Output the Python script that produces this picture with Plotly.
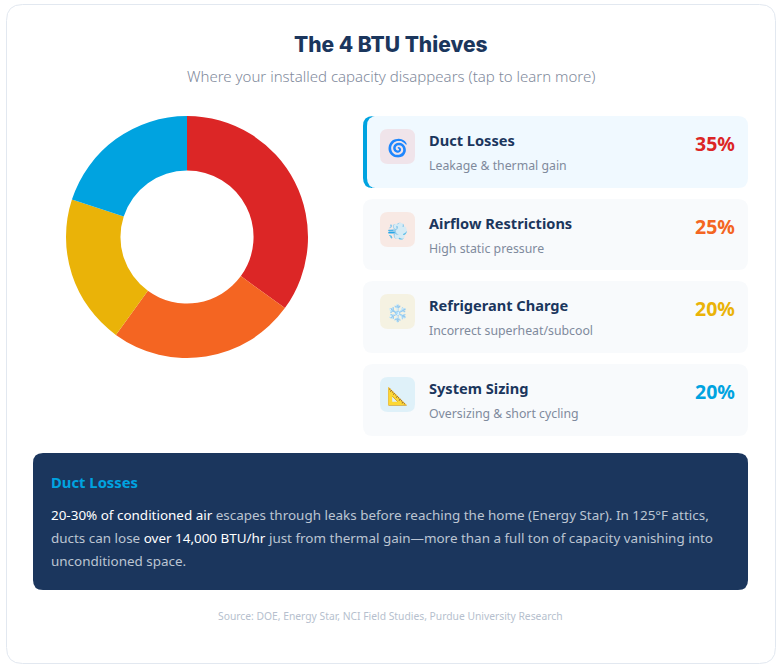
import plotly.graph_objects as go

categories = ["Duct Losses", "Airflow Restrictions", "Refrigerant Charge", "System Sizing"]
values = [35, 25, 20, 20]
colors = ["#DC2626", "#F46522", "#EAB308", "#00A3E0"]
subtitles = ["Leakage &amp; thermal gain", "High static pressure", "Incorrect superheat/subcool", "Oversizing &amp; short cycling"]
icons = ["🌀", "💨", "❄️", "📐"]
icon_bg = ["#F0E4EA", "#F8E9E4", "#F5F2E2", "#DFF1F9"]
card_tops = [116, 199, 281, 364]
card_bottoms = [188, 270, 353, 436]
detail_lines = [
    '<span style="color:#FFFFFF">20-30% of conditioned air</span> escapes through leaks before reaching the home (Energy Star). In 125°F attics,',
    'ducts can lose <span style="color:#FFFFFF">over 14,000 BTU/hr</span> just from thermal gain—more than a full ton of capacity vanishing into',
    'unconditioned space.',
]
detail_y = [514.5, 537.5, 561]

W, H = 783, 671
FONT = "Noto Sans"
NAVY = "#1B365D"


def rrect(x0, y0, x1, y1, r):
    return (f"M{x0+r},{y0} L{x1-r},{y0} Q{x1},{y0} {x1},{y0+r} L{x1},{y1-r} Q{x1},{y1} {x1-r},{y1} "
            f"L{x0+r},{y1} Q{x0},{y1} {x0},{y1-r} L{x0},{y0+r} Q{x0},{y0} {x0+r},{y0} Z")


def box(x0, y0, x1, y1, r, fill, line=None, layer="below"):
    return dict(type="path", path=rrect(x0, y0, x1, y1, r), xref="x", yref="y", fillcolor=fill,
                line=dict(color=line or "rgba(0,0,0,0)", width=1 if line else 0), layer=layer)


def label(x, y, text, size, color, anchor="left", weight=400, family=FONT):
    return dict(x=x, y=y, xref="x", yref="y", text=text, showarrow=False, xanchor=anchor, yanchor="middle",
                align=anchor, font=dict(family=family, size=size, color=color, weight=weight))


shapes = [box(6.5, 4.5, 775.5, 663.5, 16, "#FFFFFF", "#E2E8F0")]
annotations = [
    label(391, 44.5, "The 4 BTU Thieves", 21, NAVY, "center", 800, "Inter"),
    label(390.5, 76, "Where your installed capacity disappears (tap to learn more)", 15, "#7F8A9C", "center", 300, "Noto Sans"),
]

for i, name in enumerate(categories):
    top, bottom = card_tops[i], card_bottoms[i]
    if i == 0:
        shapes.append(box(363, top, 380, bottom, 10, colors[3]))
        shapes.append(box(367, top, 748, bottom, 10, "#F0F9FF"))
    else:
        shapes.append(box(363, top, 748, bottom, 10, "#F8FAFC"))
    shapes.append(box(380, top + 13, 415, top + 48, 8, icon_bg[i]))
    annotations += [
        label(397.5, top + 31, icons[i], 17, "#000000", "center"),
        label(427, top + 24, name, 14.6, NAVY, weight=700),
        label(427, top + 49, subtitles[i], 12.3, "#7F8A9C"),
        label(737, top + 27.5, f"{values[i]}%", 19.5, colors[i], "right", 700),
    ]

shapes.append(box(33, 453, 748, 590, 10, NAVY))
annotations.append(label(49, 482, categories[0], 14.8, colors[3], weight=700))
for y, line in zip(detail_y, detail_lines):
    annotations.append(label(49, y, line, 13.45, "#BCC5D2"))
annotations.append(label(390.5, 616, "Source: DOE, Energy Star, NCI Field Studies, Purdue University Research", 10.3, "#B6BFCE", "center"))

fig = go.Figure(go.Pie(
    labels=categories, values=values, sort=False, direction="clockwise", rotation=0, hole=0.55,
    marker=dict(colors=colors, line=dict(width=0)), textinfo="none", showlegend=False,
    domain=dict(x=[66 / W, 308 / W], y=[1 - 358 / H, 1 - 116 / H]),
))
fig.update_layout(
    width=W, height=H, margin=dict(l=0, r=0, t=0, b=0), paper_bgcolor="#FFFFFF", plot_bgcolor="rgba(0,0,0,0)",
    xaxis=dict(range=[0, W], visible=False, fixedrange=True, domain=[0, 1]),
    yaxis=dict(range=[H, 0], visible=False, fixedrange=True, domain=[0, 1]),
    shapes=shapes, annotations=annotations,
)
fig.write_html("out.html", config=dict(displayModeBar=False),
               post_script="document.body.style.margin='0';document.documentElement.style.overflow='hidden';")
